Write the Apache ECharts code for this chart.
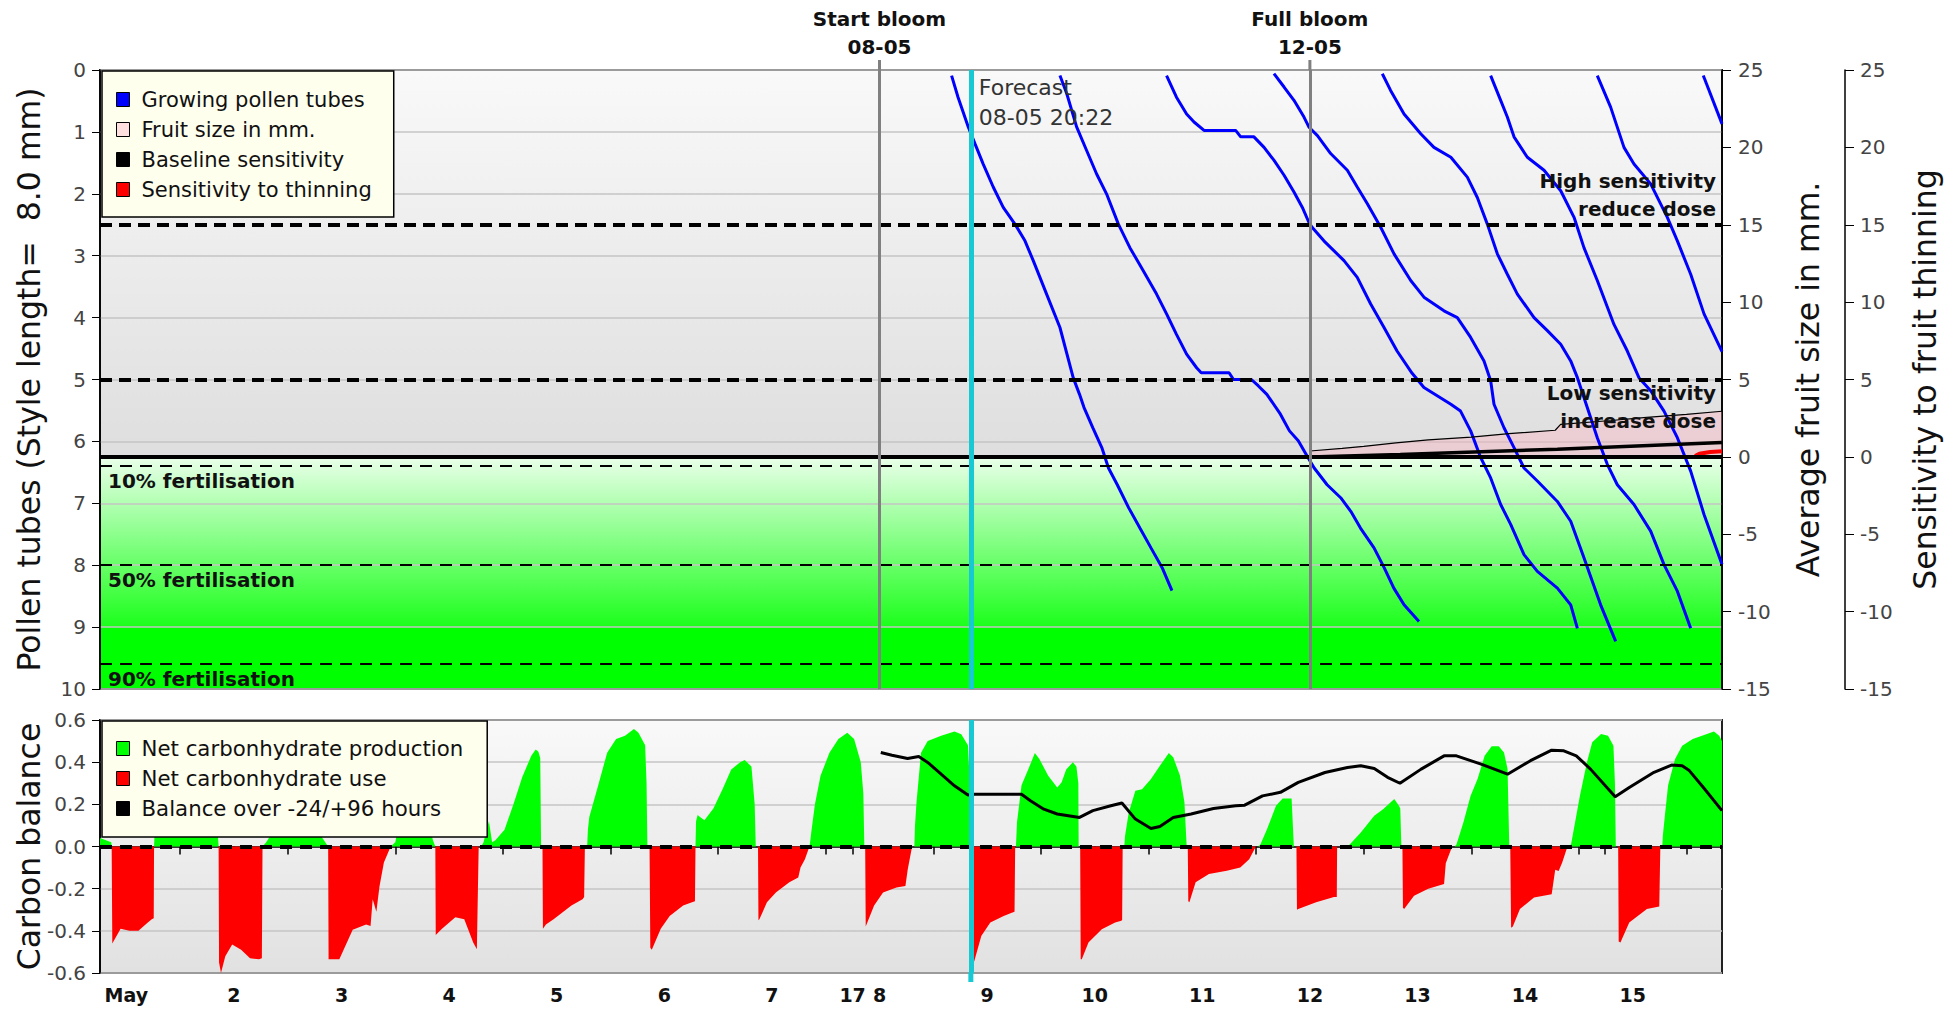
<!DOCTYPE html>
<html><head><meta charset="utf-8">
<script src="https://cdn.jsdelivr.net/npm/echarts@6/dist/echarts.min.js"></script>
<style>html,body{margin:0;padding:0;background:#fff;}#c{width:1953px;height:1013px;}</style>
</head><body><div id="c"></div>
<script>
// ---------------- DATA ----------------
const X_MIN = 0.7556, X_MAX = 15.83;           // days (1.0 = 1 May 00:00)
const dayTickValues = [1,2,3,4,5,6,7,8,9,10,11,12,13,14,15];
const dayTickLabels = ['May','2','3','4','5','6','7','8','9','10','11','12','13','14','15'];
const extraTickValues = [7.75];
const extraTickLabels = ['17'];
const minorTickValues = [1.5,2.5,3.5,4.5,5.5,6.5,7.5,8.5,9.5,10.5,11.5,12.5,13.5,14.5,14.74,15.5];

const startBloom = 8.0, fullBloom = 12.0, forecastTime = 8.849;
const startBloomLabel = ['Start bloom','08-05'];
const fullBloomLabel = ['Full bloom','12-05'];
const forecastLabel = ['Forecast','08-05 20:22'];

const fertLevels = [6.4, 8.0, 9.6];
const fertLabels = ['10% fertilisation','50% fertilisation','90% fertilisation'];
const sensLevels = [2.5, 5.0];

// pollen tubes (day, mm of style length)
const tubeA = [[8.67,0.09],[8.73,0.44],[8.825,0.92],[8.887,1.19],[8.964,1.52],[9.057,1.89],[9.15,2.22],[9.259,2.49],[9.352,2.76],[9.429,3.08],[9.553,3.62],[9.677,4.16],[9.8,4.97],[9.859,5.24],[9.90,5.45],[9.983,5.78],[10.066,6.1],[10.128,6.43],[10.21,6.70],[10.315,7.07],[10.42,7.40],[10.523,7.72],[10.627,8.04],[10.718,8.41]];
const tubeB = [[9.677,0.09],[9.74,0.38],[9.832,0.92],[9.925,1.3],[10.018,1.68],[10.11,2.0],[10.22,2.49],[10.327,2.87],[10.45,3.24],[10.575,3.62],[10.668,3.94],[10.76,4.27],[10.854,4.59],[10.947,4.81],[10.99,4.89],[11.249,4.89],[11.29,5.0],[11.456,5.0],[11.519,5.1],[11.6,5.24],[11.726,5.56],[11.81,5.83],[11.892,5.99],[11.975,6.24],[12.04,6.43],[12.16,6.70],[12.286,6.91],[12.38,7.13],[12.47,7.40],[12.596,7.72],[12.69,8.04],[12.78,8.37],[12.875,8.64],[13.014,8.91]];
const tubeC = [[10.668,0.09],[10.76,0.44],[10.854,0.71],[10.923,0.84],[11.016,0.976],[11.31,0.976],[11.357,1.08],[11.48,1.08],[11.574,1.25],[11.667,1.46],[11.76,1.70],[11.852,1.97],[11.93,2.22],[11.99,2.46],[12.02,2.54],[12.13,2.76],[12.317,3.08],[12.44,3.35],[12.565,3.78],[12.689,4.16],[12.81,4.54],[12.95,4.9],[13.06,5.13],[13.31,5.40],[13.40,5.51],[13.494,5.83],[13.587,6.26],[13.68,6.59],[13.773,7.02],[13.866,7.34],[13.99,7.83],[14.114,8.10],[14.30,8.37],[14.424,8.64],[14.486,9.02]];
const tubeD = [[11.666,0.06],[11.76,0.275],[11.852,0.49],[11.945,0.76],[11.99,0.92],[12.07,1.06],[12.193,1.35],[12.348,1.62],[12.44,1.89],[12.534,2.16],[12.658,2.54],[12.782,2.97],[12.937,3.40],[13.06,3.67],[13.246,3.89],[13.37,4.0],[13.494,4.32],[13.618,4.70],[13.68,5.02],[13.711,5.40],[13.804,5.78],[13.897,6.10],[13.99,6.43],[14.114,6.64],[14.30,6.97],[14.424,7.29],[14.547,7.88],[14.702,8.64],[14.842,9.23]];
const tubeE = [[12.673,0.06],[12.75,0.33],[12.875,0.71],[13.03,1.03],[13.153,1.25],[13.31,1.41],[13.463,1.73],[13.556,2.06],[13.649,2.49],[13.742,2.97],[13.835,3.30],[13.928,3.62],[14.083,4.0],[14.207,4.21],[14.331,4.43],[14.424,4.70],[14.486,4.97],[14.547,5.29],[14.671,5.94],[14.764,6.37],[14.857,6.70],[15.012,7.02],[15.167,7.45],[15.291,7.99],[15.415,8.42],[15.539,9.02]];
const tubeF = [[13.68,0.09],[13.773,0.49],[13.835,0.76],[13.897,1.08],[14.021,1.41],[14.176,1.62],[14.331,1.95],[14.455,2.38],[14.547,2.87],[14.671,3.40],[14.826,4.11],[14.95,4.54],[15.058,4.97],[15.167,5.18],[15.291,5.51],[15.415,5.94],[15.539,6.48],[15.663,7.18],[15.83,7.99]];
const tubeG = [[14.671,0.09],[14.795,0.60],[14.919,1.25],[15.012,1.52],[15.167,1.84],[15.322,2.38],[15.415,2.76],[15.539,3.30],[15.663,3.94],[15.83,4.55]];
const tubeH = [[15.656,0.09],[15.83,0.87]];

// right axis (mm / sensitivity)
const fruitSize = [[12.0,0.38],[12.3,0.55],[12.5,0.68],[12.8,0.9],[13.1,1.1],[13.5,1.28],[13.85,1.5],[14.28,1.72],[14.33,2.1],[14.8,2.35],[15.13,2.55],[15.5,2.75],[15.83,2.95]];
const baselineSens = [[0.7556,0],[12.0,0],[12.84,0.15],[14.3,0.5],[15.83,0.93]];
const thinningSens = [[15.58,0.05],[15.62,0.2],[15.72,0.32],[15.83,0.36]];

// carbon balance
const carbonProduction = [[0.7556,0.04],[0.86,0.02],[0.864,0],
 [1.258,0],[1.27,0.15],[1.4,0.35],[1.55,0.45],[1.7,0.42],[1.82,0.3],[1.858,0],
 [2.266,0],[2.3,0.02],[2.4,0.1],[2.5,0.25],[2.65,0.4],[2.75,0.3],[2.81,0.05],[2.876,0],
 [3.457,0],[3.5,0.02],[3.6,0.3],[3.7,0.35],[3.85,0.03],[3.872,0],
 [4.30,0],[4.32,0.02],[4.37,0.12],[4.40,0.02],[4.43,0.03],[4.515,0.08],[4.598,0.2],[4.68,0.33],[4.764,0.43],[4.805,0.46],[4.83,0.45],[4.847,0.42],[4.855,0],
 [5.283,0],[5.29,0.08],[5.303,0.14],[5.386,0.29],[5.469,0.445],[5.552,0.51],[5.635,0.525],[5.718,0.557],[5.76,0.54],[5.822,0.48],[5.835,0.3],[5.843,0],
 [6.29,0],[6.295,0.12],[6.31,0.15],[6.332,0.14],[6.373,0.125],[6.456,0.18],[6.54,0.27],[6.622,0.365],[6.705,0.40],[6.747,0.41],[6.81,0.38],[6.84,0.2],[6.85,0],
 [7.35,0],[7.369,0.08],[7.40,0.2],[7.452,0.335],[7.535,0.445],[7.618,0.51],[7.701,0.54],[7.764,0.51],[7.826,0.40],[7.85,0.25],[7.859,0],
 [8.324,0],[8.33,0.1],[8.344,0.21],[8.386,0.445],[8.448,0.50],[8.573,0.525],[8.697,0.545],[8.76,0.533],[8.822,0.48],[8.84,0.3],[8.843,0],
 [9.268,0],[9.278,0.115],[9.32,0.29],[9.382,0.365],[9.444,0.443],[9.486,0.415],[9.568,0.335],[9.652,0.28],[9.693,0.305],[9.735,0.365],[9.797,0.40],[9.83,0.38],[9.848,0.3],[9.851,0],
 [10.275,0],[10.282,0.05],[10.316,0.16],[10.378,0.265],[10.44,0.272],[10.523,0.32],[10.606,0.383],[10.689,0.443],[10.73,0.423],[10.793,0.336],[10.834,0.21],[10.855,0],
 [11.52,0],[11.54,0.01],[11.602,0.083],[11.685,0.193],[11.747,0.228],[11.83,0.228],[11.851,0],
 [12.35,0],[12.37,0.01],[12.473,0.066],[12.598,0.146],[12.68,0.177],[12.784,0.225],[12.826,0.195],[12.84,0.18],[12.85,0],
 [13.345,0],[13.362,0.01],[13.427,0.115],[13.493,0.24],[13.558,0.32],[13.624,0.43],[13.69,0.475],[13.755,0.475],[13.804,0.446],[13.837,0.367],[13.853,0],
 [14.40,0],[14.427,0.01],[14.509,0.24],[14.575,0.4],[14.624,0.494],[14.706,0.534],[14.771,0.525],[14.821,0.478],[14.835,0.3],[14.843,0],
 [15.275,0],[15.28,0.05],[15.296,0.13],[15.329,0.29],[15.394,0.415],[15.46,0.478],[15.558,0.51],[15.69,0.534],[15.755,0.545],[15.804,0.525],[15.83,0.5]];
const carbonUse = [[0.864,0],[0.87,-0.46],[0.947,-0.39],[1.03,-0.40],[1.113,-0.40],[1.2,-0.36],[1.237,-0.345],[1.255,-0.34],[1.258,0],
 [1.858,0],[1.862,-0.55],[1.88,-0.6],[1.92,-0.52],[1.984,-0.465],[2.067,-0.49],[2.15,-0.53],[2.233,-0.535],[2.26,-0.53],[2.266,0],
 [2.876,0],[2.88,-0.535],[2.98,-0.535],[3.104,-0.395],[3.229,-0.37],[3.27,-0.377],[3.29,-0.25],[3.324,-0.31],[3.353,-0.19],[3.394,-0.076],[3.457,0],
 [3.872,0],[3.876,-0.42],[3.934,-0.39],[4.058,-0.335],[4.141,-0.345],[4.224,-0.455],[4.258,-0.487],[4.275,0],
 [4.868,0],[4.872,-0.39],[4.90,-0.37],[4.971,-0.345],[5.137,-0.28],[5.24,-0.25],[5.255,-0.24],[5.262,0],
 [5.863,0],[5.87,-0.48],[5.884,-0.49],[5.967,-0.39],[6.05,-0.33],[6.175,-0.28],[6.258,-0.265],[6.285,-0.26],[6.29,0],
 [6.871,0],[6.875,-0.35],[6.884,-0.345],[6.954,-0.265],[7.037,-0.218],[7.162,-0.17],[7.245,-0.147],[7.266,-0.1],[7.307,-0.06],[7.349,0],
 [7.867,0],[7.872,-0.38],[7.95,-0.28],[8.033,-0.218],[8.158,-0.195],[8.241,-0.187],[8.262,-0.11],[8.303,0],
 [8.871,0],[8.875,-0.54],[8.88,-0.545],[8.946,-0.425],[9.03,-0.36],[9.154,-0.33],[9.236,-0.313],[9.255,-0.31],[9.261,0],
 [9.865,0],[9.87,-0.535],[9.88,-0.535],[9.942,-0.455],[10.066,-0.393],[10.19,-0.36],[10.24,-0.353],[10.255,-0.35],[10.26,0],
 [10.865,0],[10.87,-0.26],[10.88,-0.265],[10.938,-0.17],[11.062,-0.13],[11.228,-0.115],[11.353,-0.1],[11.436,-0.06],[11.498,0],
 [11.875,0],[11.88,-0.3],[11.892,-0.297],[12.058,-0.265],[12.224,-0.24],[12.25,-0.24],[12.253,0],
 [12.86,0],[12.865,-0.29],[12.876,-0.297],[12.968,-0.234],[13.1,-0.2],[13.247,-0.178],[13.263,-0.08],[13.322,0],
 [13.862,0],[13.87,-0.385],[13.886,-0.38],[13.952,-0.297],[14.083,-0.242],[14.247,-0.226],[14.28,-0.11],[14.312,-0.116],[14.345,-0.076],[14.394,0],
 [14.865,0],[14.87,-0.45],[14.886,-0.455],[14.968,-0.36],[15.132,-0.297],[15.247,-0.285],[15.257,0]];
const balance = [[8.012,0.446],[8.116,0.433],[8.261,0.417],[8.365,0.427],[8.448,0.399],[8.573,0.343],[8.697,0.288],[8.822,0.244],[8.884,0.248],[9.32,0.248],[9.403,0.217],[9.527,0.177],[9.652,0.154],[9.859,0.138],[9.983,0.17],[10.15,0.193],[10.253,0.206],[10.378,0.13],[10.523,0.085],[10.606,0.095],[10.73,0.138],[10.896,0.154],[11.104,0.18],[11.311,0.193],[11.394,0.196],[11.56,0.24],[11.726,0.257],[11.892,0.304],[12.14,0.351],[12.349,0.375],[12.473,0.383],[12.598,0.37],[12.722,0.328],[12.837,0.3],[13.034,0.367],[13.247,0.43],[13.362,0.43],[13.591,0.391],[13.837,0.343],[14.05,0.407],[14.247,0.457],[14.36,0.454],[14.476,0.43],[14.608,0.367],[14.837,0.236],[14.968,0.28],[15.198,0.352],[15.361,0.386],[15.46,0.383],[15.526,0.36],[15.657,0.28],[15.83,0.17]];

// ---------------- CHART ----------------
const FONT = 'DejaVu Sans';
const chart = echarts.init(document.getElementById('c'), null, {renderer: 'svg'});
const G = echarts.graphic.LinearGradient;

const tubeSeries = [tubeA,tubeB,tubeC,tubeD,tubeE,tubeF,tubeG,tubeH].map(d => ({
  name: 'Growing pollen tubes', type: 'line', xAxisIndex: 0, yAxisIndex: 0, data: d,
  symbol: 'none', lineStyle: {color: '#0000ff', width: 3}, itemStyle: {color: '#0000ff'}
}));

const thick = {color: '#000', width: 4, type: [12, 7]};
const thin = {color: '#000', width: 2, type: [12, 8]};
const CYAN = '#17c9d3';

const option = {
  animation: false,
  textStyle: {fontFamily: FONT},
  grid: [
    {left: 100, top: 70, width: 1622, height: 619, show: true, borderColor: '#222', borderWidth: 2,
     backgroundColor: new G(0, 0, 0, 1, [
       {offset: 0, color: '#f9f9f9'}, {offset: 0.628, color: '#dedede'},
       {offset: 0.628, color: '#e8ffe8'}, {offset: 0.9, color: '#1cff1c'},
       {offset: 0.9, color: '#00ff00'}, {offset: 1, color: '#00ff00'}])},
    {left: 100, top: 720, width: 1622, height: 253, show: true, borderColor: '#222', borderWidth: 2,
     backgroundColor: new G(0, 0, 0, 1, [{offset: 0, color: '#f9f9f9'}, {offset: 1, color: '#e1e1e1'}])}
  ],
  xAxis: [
    {gridIndex: 0, type: 'value', min: X_MIN, max: X_MAX, show: false},
    {gridIndex: 1, type: 'value', min: X_MIN, max: X_MAX,
     axisLine: {lineStyle: {color: '#000', width: 1.5}},
     axisTick: {length: 8, lineStyle: {color: '#000', width: 1.5},
       customValues: dayTickValues.concat(extraTickValues, minorTickValues)},
     axisLabel: {customValues: dayTickValues.concat(extraTickValues), margin: 12,
       fontFamily: FONT, fontWeight: 'bold', fontSize: 19, color: '#111',
       formatter: v => {
         let i = dayTickValues.findIndex(t => Math.abs(t - v) < 1e-6);
         if (i >= 0) return dayTickLabels[i];
         i = extraTickValues.findIndex(t => Math.abs(t - v) < 1e-6);
         return i >= 0 ? extraTickLabels[i] : '';
       }},
     splitLine: {show: false}}
  ],
  yAxis: [
    {gridIndex: 0, type: 'value', inverse: true, min: 0, max: 10, interval: 1, position: 'left',
     axisLine: {show: true, lineStyle: {color: '#000', width: 1.5}},
     axisTick: {show: true, length: 8, lineStyle: {color: '#000'}},
     axisLabel: {fontFamily: FONT, fontSize: 20, color: '#444', margin: 14},
     splitLine: {show: true, lineStyle: {color: '#c4c4c4', width: 1.5}}},
    {gridIndex: 0, type: 'value', min: -15, max: 25, interval: 5, position: 'right',
     axisLine: {show: true, lineStyle: {color: '#000', width: 1.5}},
     axisTick: {show: true, length: 9, lineStyle: {color: '#000'}},
     axisLabel: {fontFamily: FONT, fontSize: 20, color: '#444', margin: 16},
     splitLine: {show: false}},
    {gridIndex: 0, type: 'value', min: -15, max: 25, interval: 5, position: 'right', offset: 123,
     axisLine: {show: true, lineStyle: {color: '#000', width: 1.5}},
     axisTick: {show: true, length: 9, lineStyle: {color: '#000'}},
     axisLabel: {fontFamily: FONT, fontSize: 20, color: '#444', margin: 15},
     splitLine: {show: false}},
    {gridIndex: 1, type: 'value', min: -0.6, max: 0.6, interval: 0.2,
     axisLine: {show: true, lineStyle: {color: '#000', width: 1.5}},
     axisTick: {show: true, length: 8, lineStyle: {color: '#000'}},
     axisLabel: {fontFamily: FONT, fontSize: 20, color: '#444', margin: 14,
       formatter: v => (Math.abs(v) < 1e-9 ? 0 : v).toFixed(1)},
     splitLine: {show: true, lineStyle: {color: '#c4c4c4', width: 1.5}}}
  ],
  legend: [
    {data: ['Growing pollen tubes', 'Fruit size in mm.', 'Baseline sensitivity', 'Sensitivity to thinning'],
     left: 102, top: 71, orient: 'vertical', icon: 'rect', itemWidth: 13, itemHeight: 14, itemGap: 9,
     padding: [18, 22, 17, 14], backgroundColor: '#ffffee', borderColor: '#000', borderWidth: 1.5, borderRadius: 0,
     itemStyle: {borderColor: '#000', borderWidth: 1},
     textStyle: {fontFamily: FONT, fontSize: 21, color: '#111', padding: [0, 0, 0, 7]}, selectedMode: false},
    {data: ['Net carbonhydrate production', 'Net carbonhydrate use', 'Balance over -24/+96 hours'],
     left: 102, top: 721, orient: 'vertical', icon: 'rect', itemWidth: 13, itemHeight: 14, itemGap: 9,
     padding: [17, 24, 18, 14], backgroundColor: '#ffffee', borderColor: '#000', borderWidth: 1.5, borderRadius: 0,
     itemStyle: {borderColor: '#000', borderWidth: 1},
     textStyle: {fontFamily: FONT, fontSize: 21.3, color: '#111', padding: [0, 0, 0, 7]}, selectedMode: false}
  ],
  series: [
    {name: 'refsTop', type: 'line', xAxisIndex: 0, yAxisIndex: 0, data: [], silent: true,
     markLine: {symbol: ['none', 'none'], silent: true, label: {show: false},
       data: sensLevels.map(v => ({yAxis: v, lineStyle: thick}))
         .concat(fertLevels.map(v => ({yAxis: v, lineStyle: thin})))}},
    ...tubeSeries,
    {name: 'Fruit size in mm.', type: 'line', xAxisIndex: 0, yAxisIndex: 1, data: fruitSize, symbol: 'none',
     itemStyle: {color: '#ffdede'}, lineStyle: {color: '#000', width: 1.2},
     areaStyle: {color: 'rgba(255,176,190,0.5)', origin: 0}},
    {name: 'Baseline sensitivity', type: 'line', xAxisIndex: 0, yAxisIndex: 1, data: baselineSens, symbol: 'none',
     itemStyle: {color: '#000'}, lineStyle: {color: '#000', width: 3.5},
     markLine: {symbol: ['none', 'none'], silent: true, label: {show: false},
       data: [{yAxis: 0, lineStyle: {color: '#000', width: 4, type: 'solid'}}]}},
    {name: 'Sensitivity to thinning', type: 'line', xAxisIndex: 0, yAxisIndex: 1, data: thinningSens, symbol: 'none',
     itemStyle: {color: '#ff0000'}, lineStyle: {color: '#ff0000', width: 4}},
    {name: 'refsTop2', type: 'line', xAxisIndex: 0, yAxisIndex: 0, data: [], silent: true,
     markLine: {symbol: ['none', 'none'], silent: true,
       data: [
         [{coord: [startBloom, 10], lineStyle: {color: '#808080', width: 3, type: 'solid'},
           label: {show: true, position: 'end', distance: 9, formatter: startBloomLabel.join('\n'),
             fontFamily: FONT, fontWeight: 'bold', fontSize: 20, lineHeight: 28, color: '#111'}},
          {coord: [startBloom, 0]}],
         [{coord: [fullBloom, 10], lineStyle: {color: '#808080', width: 3, type: 'solid'},
           label: {show: true, position: 'end', distance: 9, formatter: fullBloomLabel.join('\n'),
             fontFamily: FONT, fontWeight: 'bold', fontSize: 20, lineHeight: 28, color: '#111'}},
          {coord: [fullBloom, 0]}],
         [{coord: [forecastTime, 10], lineStyle: {color: CYAN, width: 5, type: 'solid'}, label: {show: false}},
          {coord: [forecastTime, 0]}]
       ]}},
    {name: 'Net carbonhydrate production', type: 'line', xAxisIndex: 1, yAxisIndex: 3, data: carbonProduction,
     symbol: 'none', itemStyle: {color: '#00ff00'}, lineStyle: {width: 0, color: '#00ff00'},
     areaStyle: {color: '#00ff00', opacity: 1, origin: 0}},
    {name: 'Net carbonhydrate use', type: 'line', xAxisIndex: 1, yAxisIndex: 3, data: carbonUse,
     symbol: 'none', itemStyle: {color: '#ff0000'}, lineStyle: {width: 0, color: '#ff0000'},
     areaStyle: {color: '#ff0000', opacity: 1, origin: 0}},
    {name: 'refsBottom', type: 'line', xAxisIndex: 1, yAxisIndex: 3, data: [], silent: true,
     markLine: {symbol: ['none', 'none'], silent: true, label: {show: false},
       data: [{yAxis: 0, lineStyle: {color: '#000', width: 4, type: [12, 8]}},
         [{coord: [forecastTime, -0.6], lineStyle: {color: CYAN, width: 5, type: 'solid'}},
          {coord: [forecastTime, 0.6]}]]}},
    {name: 'Balance over -24/+96 hours', type: 'line', xAxisIndex: 1, yAxisIndex: 3, data: balance,
     symbol: 'none', itemStyle: {color: '#000'}, lineStyle: {color: '#000', width: 3}}
  ]
};
chart.setOption(option);

// ---------------- free texts placed through the axes ----------------
const px = (x, y) => chart.convertToPixel({xAxisIndex: 0, yAxisIndex: 0}, [x, y]);
const pxB = (x, y) => chart.convertToPixel({xAxisIndex: 1, yAxisIndex: 3}, [x, y]);
const left = px(X_MIN, 0)[0], right = px(X_MAX, 0)[0];
const topY = px(X_MIN, 0)[1], botY = px(X_MIN, 10)[1];
const bTop = pxB(X_MIN, 0.6)[1], bBot = pxB(X_MIN, -0.6)[1];
const boldTxt = (text, x, y, align) => ({type: 'text', x, y, z: 50, silent: true,
  style: {text, fontFamily: FONT, fontWeight: 'bold', fontSize: 20, fill: '#111', align, verticalAlign: 'middle'}});
const titleTxt = (text, x, y) => ({type: 'text', x, y, rotation: Math.PI / 2, z: 50, silent: true,
  style: {text, fontFamily: FONT, fontSize: 31.5, fill: '#111', align: 'center', verticalAlign: 'middle'}});
const graphics = [];
fertLevels.forEach((v, i) => graphics.push(boldTxt(fertLabels[i], left + 8, px(X_MIN, v)[1] + 15, 'left')));
const y25 = px(X_MIN, sensLevels[0])[1], y5 = px(X_MIN, sensLevels[1])[1];
graphics.push(boldTxt('High sensitivity', right - 6, y25 - 44, 'right'));
graphics.push(boldTxt('reduce dose', right - 6, y25 - 16, 'right'));
graphics.push(boldTxt('Low sensitivity', right - 6, y5 + 13, 'right'));
graphics.push(boldTxt('increase dose', right - 6, y5 + 41, 'right'));
const fx = px(forecastTime, 0)[0];
graphics.push({type: 'text', x: fx + 8, y: topY + 2, z: 50, silent: true,
  style: {text: forecastLabel.join('\n'), fontFamily: FONT, fontSize: 22, lineHeight: 30, fill: '#333', align: 'left', verticalAlign: 'top'}});
// short extensions of the marker lines beyond the plot frames
[startBloom, fullBloom].forEach(v => {
  const x = px(v, 0)[0];
  graphics.push({type: 'line', z: 40, silent: true, shape: {x1: x, y1: topY - 10, x2: x, y2: topY},
    style: {stroke: '#808080', lineWidth: 3}});
});
const fxB = pxB(forecastTime, 0)[0];
graphics.push({type: 'line', z: 40, silent: true, shape: {x1: fxB, y1: bBot, x2: fxB, y2: bBot + 9},
  style: {stroke: CYAN, lineWidth: 5}});
graphics.push(titleTxt('Pollen tubes (Style length=  8.0 mm)', 29, (topY + botY) / 2));
graphics.push(titleTxt('Average fruit size in mm.', 1808, (topY + botY) / 2));
graphics.push(titleTxt('Sensitivity to fruit thinning', 1925, (topY + botY) / 2));
graphics.push(titleTxt('Carbon balance', 29, (bTop + bBot) / 2));
chart.setOption({graphic: graphics});
</script>
</body></html>
